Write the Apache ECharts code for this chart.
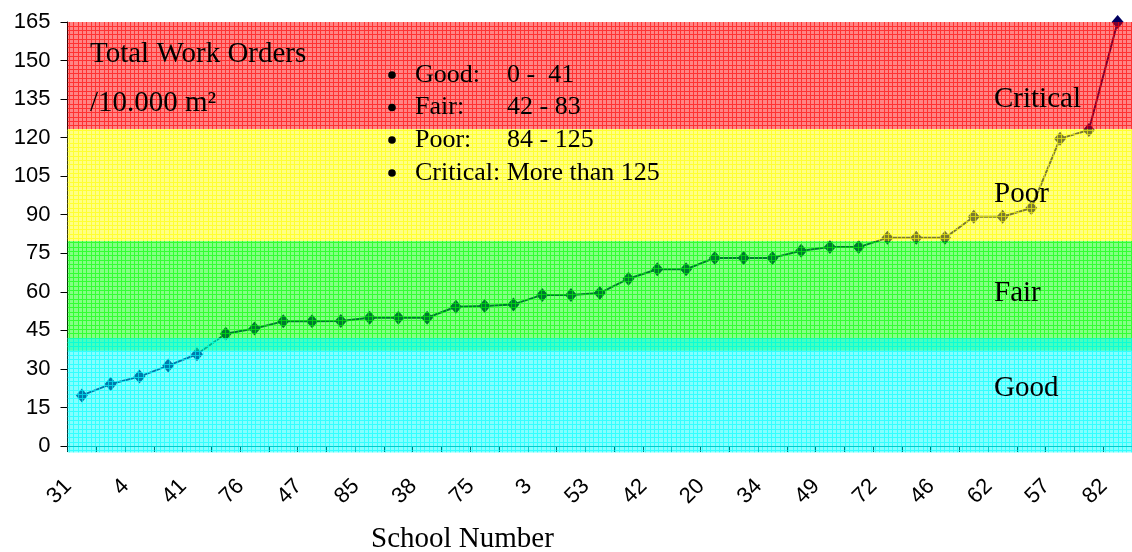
<!DOCTYPE html>
<html>
<head>
<meta charset="utf-8">
<script src="https://cdn.jsdelivr.net/npm/echarts@6/dist/echarts.min.js"></script>
<style>
  html, body { margin: 0; padding: 0; background: #ffffff; }
  #chart { width: 1132px; height: 552px; }
</style>
</head>
<body>
<div id="chart"></div>
<script>
// School numbers along the x axis (only every other school is printed)
const schoolNumbers = ['31', '', '4', '', '41', '', '76', '', '47', '', '85', '', '38', '', '75', '', '3', '',
  '53', '', '42', '', '20', '', '34', '', '49', '', '72', '', '46', '', '62', '', '57', '', '82'];

// Total work orders per 10.000 m2, one value per school
const workOrders = [19.7, 24.1, 27.0, 31.3, 35.7, 43.7, 45.7, 48.5, 48.5, 48.6, 49.9, 49.9, 49.9,
  54.2, 54.5, 55.1, 58.8, 58.8, 59.5, 65.1, 68.8, 68.8, 73.2, 73.2, 73.2, 76.0, 77.4, 77.4,
  81.0, 81.0, 81.0, 89.2, 89.2, 92.6, 119.6, 123.0, 165];

// Condition bands (drawn in this order, so Good lies over Fair where they meet)
const bandNames = ['Fair', 'Good', 'Poor', 'Critical'];
const bandLow = [37.1, -2.5, 79.8, 123.4];
const bandHigh = [79.8, 41.9, 123.4, 165];

// Legend rows
const legendNames = ['Good:', 'Fair:', 'Poor:', 'Critical:'];
const legendRanges = ['0 -  41', '42 - 83', '84 - 125', 'More than 125'];

// Value axis
const yMin = 0, yMax = 165, yStep = 15;

// ---- styling ----
const bandRGB = { Good: [0, 255, 255], Fair: [0, 255, 0], Poor: [255, 255, 0], Critical: [255, 0, 0] };
const bandLabelLayout = { Critical: 99.5, Poor: 194.5, Fair: 293.8, Good: 388.5 };
const serif = '"Liberation Serif", "Times New Roman", serif';
const sans = '"Liberation Sans", Arial, sans-serif';

// Half-transparent fill with a fine grid of stronger lines
function gridPattern(rgb) {
  const size = 13, lines = [0, 4, 8];
  const c = document.createElement('canvas');
  c.width = size; c.height = size;
  const g = c.getContext('2d');
  const img = g.createImageData(size, size);
  for (let y = 0; y < size; y++) {
    for (let x = 0; x < size; x++) {
      const onLine = lines.includes(x) || lines.includes(y);
      const i = (y * size + x) * 4;
      img.data[i] = rgb[0]; img.data[i + 1] = rgb[1]; img.data[i + 2] = rgb[2];
      img.data[i + 3] = Math.round((onLine ? 0.8 : 0.48) * 255);
    }
  }
  g.putImageData(img, 0, 0);
  return { image: c, repeat: 'repeat' };
}
const patterns = {};
Object.keys(bandRGB).forEach(k => { patterns[k] = gridPattern(bandRGB[k]); });

function text(str, x, y, size) {
  return {
    type: 'text', x: x, y: y, z: 100, silent: true,
    style: {
      text: str, font: size + 'px ' + serif, fill: '#000',
      align: 'left', verticalAlign: 'middle', textAlign: 'left', textVerticalAlign: 'middle'
    }
  };
}

const legendRowY = [75, 107.5, 140, 173];
const graphics = [
  text('Total Work Orders', 90, 54, 29),
  text('/10.000 m\u00B2', 90, 103, 29),
  text('School Number', 371, 539.5, 29)
];
legendNames.forEach((n, i) => {
  graphics.push({ type: 'circle', z: 100, silent: true, shape: { cx: 392, cy: legendRowY[i], r: 3.8 }, style: { fill: '#000' } });
  if (i < 3) {
    graphics.push(text(n, 415, legendRowY[i], 26));
    graphics.push(text(legendRanges[i], 507, legendRowY[i], 26));
  } else {
    graphics.push(text(n + ' ' + legendRanges[i], 415, legendRowY[i], 26));
  }
});
Object.keys(bandLabelLayout).forEach(k => graphics.push(text(k, 994, bandLabelLayout[k], 29)));

const chart = echarts.init(document.getElementById('chart'), null, { renderer: 'canvas' });
chart.setOption({
  animation: false,
  grid: { left: 67.5, top: 22, width: 1069, height: 424 },
  xAxis: {
    type: 'category',
    data: schoolNumbers,
    boundaryGap: true,
    axisLine: { show: true, lineStyle: { color: '#000', width: 1 } },
    axisTick: { show: true, interval: 0, length: 6, lineStyle: { color: '#000' } },
    axisLabel: {
      interval: 0, rotate: 45, margin: 23, padding: [0, 19.5, 0, 0],
      fontFamily: sans, fontSize: 22, color: '#000'
    },
    splitLine: { show: false }
  },
  yAxis: {
    type: 'value', min: yMin, max: yMax, interval: yStep,
    axisLine: { show: true, lineStyle: { color: '#000', width: 1 } },
    axisTick: { show: true, length: 7, lineStyle: { color: '#000' } },
    axisLabel: { margin: 17, fontFamily: sans, fontSize: 22, color: '#000' },
    splitLine: { show: false }
  },
  series: [
    {
      type: 'line',
      data: workOrders,
      symbol: 'diamond',
      symbolSize: [12, 14],
      showAllSymbol: true,
      clip: false,
      lineStyle: { color: '#000060', width: 2 },
      itemStyle: { color: '#000060' },
      z: 2,
      silent: true
    },
    {
      type: 'custom',
      data: bandNames.map((n, i) => [0, bandLow[i], bandHigh[i]]),
      encode: { x: 0, y: [1, 2] },
      z: 5,
      silent: true,
      renderItem: function (params, api) {
        const cs = params.coordSys;
        const top = api.coord([0, api.value(2)])[1];
        const bottom = api.coord([0, api.value(1)])[1];
        return {
          type: 'rect',
          shape: { x: cs.x, y: top, width: cs.width, height: bottom - top },
          style: { fill: patterns[bandNames[params.dataIndex]] }
        };
      }
    }
  ],
  graphic: { elements: graphics }
});
</script>
</body>
</html>
